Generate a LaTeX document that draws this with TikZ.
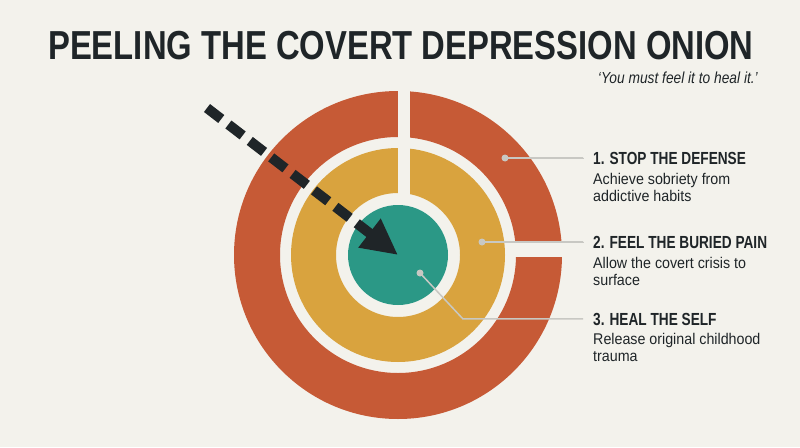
\documentclass[tikz,border=0pt]{standalone}
\usepackage{fontspec}
\setmainfont{Liberation Sans}
\newfontfamily\titlefont{Liberation Sans}[FakeStretch=0.81]
\newfontfamily\headfont{Liberation Sans}[FakeStretch=0.78]
\newfontfamily\bodyfont{Liberation Sans}[FakeStretch=0.92]
\newfontfamily\quotefont{Liberation Sans}[FakeStretch=0.86]
\usetikzlibrary{arrows.meta}
\definecolor{paper}{HTML}{F3F2EC}
\definecolor{rust}{HTML}{C65A36}
\definecolor{mustard}{HTML}{D9A33E}
\definecolor{coreteal}{HTML}{2B9886}
\definecolor{ink}{HTML}{1F2528}
\definecolor{leader}{HTML}{C8C8C3}
\tikzset{
    steptitle/.style={anchor=base west, inner sep=0pt, text=ink, font=\headfont\bfseries\fontsize{17.5}{20}\selectfont},
    stepnote/.style={anchor=north west, inner sep=0pt, align=left, text=ink, font=\bodyfont\fontsize{15.5}{17}\selectfont},
    leaderline/.style={leader, line width=1.5pt},
    leaderdot/.style={circle, fill=leader, inner sep=0pt, minimum size=7pt}
}
\begin{document}
\begin{tikzpicture}[x=1pt,y=-1pt]
        \fill[paper] (0,0) rectangle (800,447);
        \useasboundingbox (0,0) rectangle (800,447);
        \coordinate (c) at (398,255);
        \fill[rust, even odd rule] (c) circle (164pt) (c) circle (118pt);
        \fill[mustard, even odd rule] (c) circle (107pt) (c) circle (62pt);
        \fill[coreteal] (c) circle (50pt);
        \fill[paper] (398,85) rectangle (410,195);
        \fill[paper] (508,242) rectangle (570,257);
        \node[anchor=base west, inner sep=0pt, text=ink, font=\titlefont\bfseries\fontsize{40.5}{44}\selectfont] (title) at (48,59) {PEELING THE COVERT DEPRESSION ONION};
        \node[anchor=base east, inner sep=0pt, text=ink, font=\quotefont\itshape\fontsize{16}{18}\selectfont] (motto) at (758,83) {‘You must feel it to heal it.’};
        \node[steptitle] (s1) at (593,164) {1. STOP THE DEFENSE};
        \node[stepnote] (n1) at ([yshift=-9pt]s1.base west) {Achieve sobriety from\\addictive habits};
        \node[steptitle] (s2) at (593,248) {2. FEEL THE BURIED PAIN};
        \node[stepnote] (n2) at ([yshift=-9pt]s2.base west) {Allow the covert crisis to\\surface};
        \node[steptitle] (s3) at (593,325) {3. HEAL THE SELF};
        \node[stepnote] (n3) at ([yshift=-8pt]s3.base west) {Release original childhood\\trauma};
        \node[leaderdot] (d1) at (505,158) {};
        \node[leaderdot] (d2) at (482,242) {};
        \node[leaderdot] (d3) at (420,273) {};
        \coordinate (e1) at ([xshift=-10pt]s1.west);
        \coordinate (e2) at ([xshift=-10pt]s2.west);
        \coordinate (e3) at ([xshift=-10pt]s3.west);
        \coordinate (k3) at (463,0);
        \draw[leaderline] (d1.center) -- (d1.center -| e1) -- (e1);
        \draw[leaderline] (d2.center) -- (d2.center -| e2) -- (e2);
        \draw[leaderline] (d3.center) -- (k3 |- e3) -- (e3);
        \coordinate (a0) at (207,108);
        \draw[ink, line width=10pt, dash pattern=on 18pt off 9pt, -{Triangle[length=36pt,width=34pt]}] (a0) -- (c);
    \end{tikzpicture}
\end{document}
